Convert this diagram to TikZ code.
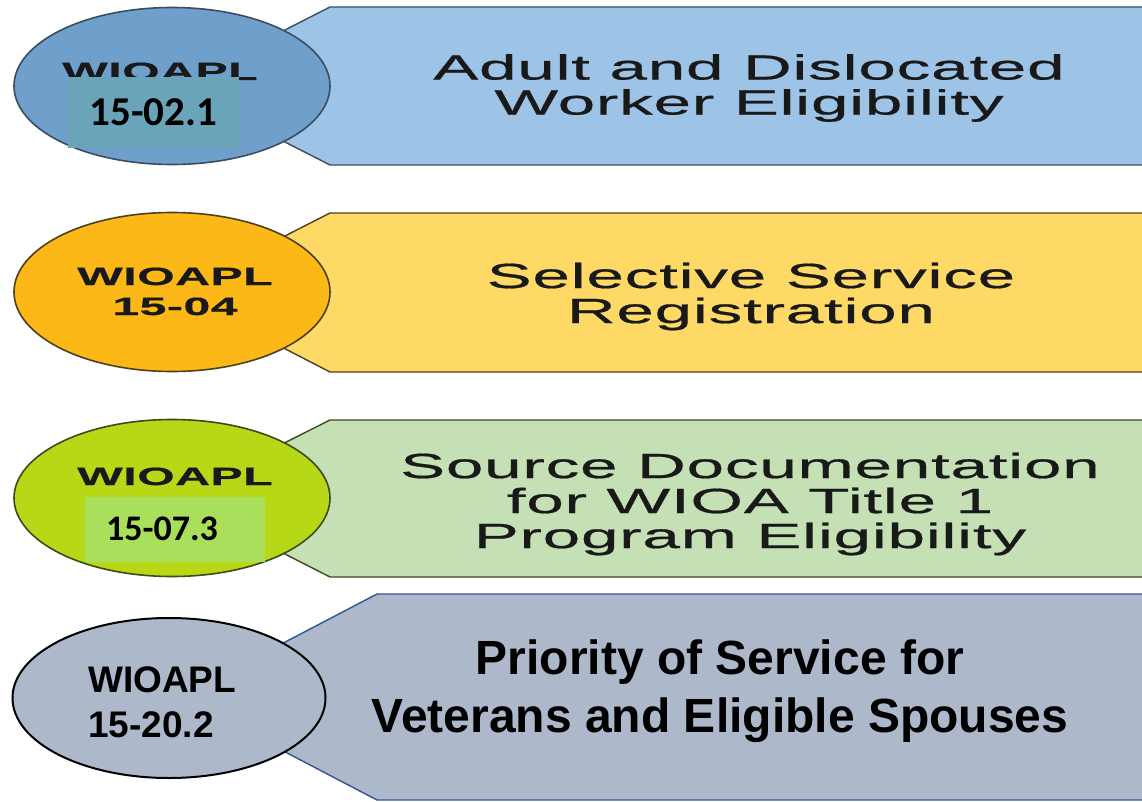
\documentclass[tikz,border=0pt]{standalone}
\usepackage{fontspec}
\setmainfont{Liberation Sans}
\newfontfamily\widefont[FakeStretch=1.93,LetterSpace=2,FakeBold=0.6]{Liberation Sans}
\newfontfamily\calfont{Carlito}
\usetikzlibrary{shapes.geometric}
\definecolor{adultfill}{HTML}{6F9FCB}
\definecolor{adulttag}{HTML}{9DC3E6}
\definecolor{adultbox}{HTML}{6AA4B8}
\definecolor{adultline}{HTML}{3B4E60}
\definecolor{servfill}{HTML}{FBB817}
\definecolor{servtag}{HTML}{FFD966}
\definecolor{servline}{HTML}{4D4020}
\definecolor{docfill}{HTML}{B6D817}
\definecolor{doctag}{HTML}{C5E0B4}
\definecolor{docbox}{HTML}{A9DF5B}
\definecolor{docline}{HTML}{3D4A1A}
\definecolor{vetfill}{HTML}{ADB9CA}
\definecolor{vetline}{HTML}{2F5597}
\begin{document}
\begin{tikzpicture}[x=1pt,y=-1pt,
  oval/.style={ellipse,line width=1.6pt,minimum width=316pt,minimum height=157pt,inner sep=0pt},
  tagline/.style={line width=1.4pt,line join=miter},
  codebox/.style={inner sep=0pt},
  codetext/.style={font=\widefont\bfseries\fontsize{25}{30}\selectfont,text=black!90},
  numtext/.style={font=\calfont\bfseries\fontsize{41}{41}\selectfont,inner sep=0pt},
  topictext/.style={align=center,font=\widefont\fontsize{35}{35}\selectfont,text=black!90}]
\useasboundingbox (0,0) rectangle (1142,802);
% adult and dislocated worker
\draw[tagline,draw=adultline,fill=adulttag] (330,7) -- (1150,7) -- (1150,165) -- (330,165) -- (175,86) -- cycle;
\node[oval,draw=adultline,fill=adultfill] (adult) at (172,86) {};
\node[codetext,anchor=base] (adultcode) at (160,80) {WIOAPL};
\node[codebox,fill=adultbox,minimum width=171pt,minimum height=71pt] (adultbox) at (153.5,112.5) {};
\node[numtext] (adultnum) at (adultbox.center) {15-02.1};
\node[topictext] (adulttopic) at (749,88) {Adult and Dislocated\\Worker Eligibility};
% selective service
\draw[tagline,draw=servline,fill=servtag] (330,213) -- (1150,213) -- (1150,372) -- (330,372) -- (175,292) -- cycle;
\node[oval,draw=servline,fill=servfill,minimum height=159pt] (serv) at (172,292) {};
\node[codetext,anchor=base] (servcode) at (175,285) {WIOAPL};
\node[codetext,anchor=base] (servnum) at (175,315) {15-04};
\node[topictext] (servtopic) at (751,296.5) {Selective Service\\Registration};
% source documentation
\draw[tagline,draw=docline,fill=doctag] (330,420) -- (1150,420) -- (1150,577) -- (330,577) -- (175,498) -- cycle;
\node[oval,draw=docline,fill=docfill] (doc) at (172,498) {};
\node[codetext,anchor=base] (doccode) at (175,485) {WIOAPL};
\node[codebox,fill=docbox,minimum width=180pt,minimum height=65pt] (docbox) at (175,529.5) {};
\node[numtext,font=\calfont\bfseries\fontsize{36}{36}\selectfont] (docnum) at (162,528.5) {15-07.3};
\node[topictext] (doctopic) at (750,504) {Source Documentation\\for WIOA Title 1\\Program Eligibility};
% priority of service
\draw[tagline,draw=vetline,fill=vetfill] (377,594) -- (1150,594) -- (1150,800) -- (377,800) -- (180,697) -- cycle;
\node[oval,draw=black,line width=2pt,fill=vetfill,minimum width=313pt,minimum height=160pt] (vet) at (169,698) {};
\node[anchor=base west,inner sep=0pt,font=\bfseries\fontsize{37}{37}\selectfont] (vetcode) at (88,692) {WIOAPL};
\node[anchor=base west,inner sep=0pt,font=\bfseries\fontsize{37}{37}\selectfont] (vetnum) at (88,737) {15-20.2};
\node[align=center,font=\bfseries\fontsize{48}{58}\selectfont] (vettopic) at (720,691) {Priority of Service for\\Veterans and Eligible Spouses};
\end{tikzpicture}
\end{document}
